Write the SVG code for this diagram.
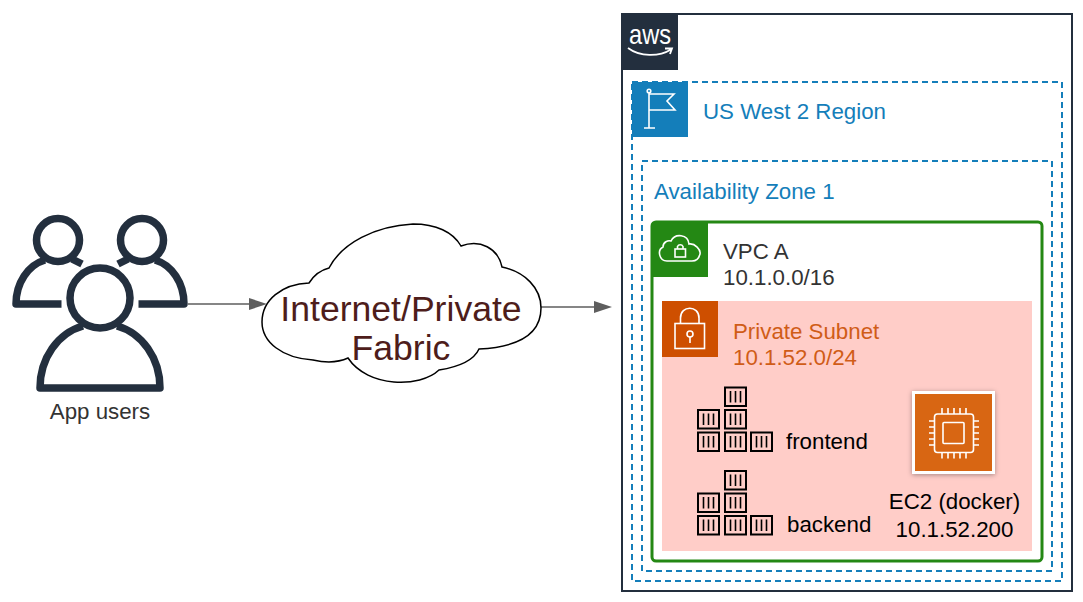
<svg xmlns="http://www.w3.org/2000/svg" width="1083" height="602" viewBox="0 0 1083 602">
<style>
text{font-family:"Liberation Sans",Arial,sans-serif;font-size:22.3px;fill:#333}
.blue{fill:#147eba}.org{fill:#d05c17}.blk{fill:#000}
.dash{fill:none;stroke:#147eba;stroke-width:2;stroke-dasharray:6 4}
.usr{fill:none;stroke:#232f3e;stroke-width:7.5;stroke-linejoin:round}
.ln{fill:none;stroke:#fff;stroke-width:1.6}
.conn{fill:none;stroke:#5e5e5e;stroke-width:1.5}
.c{fill:none;stroke:#000;stroke-width:2}
.b{stroke:#000;stroke-width:1.6}
</style>
<defs>
<marker id="arr" viewBox="0 0 18 12" refX="0" refY="6" markerWidth="18" markerHeight="12" markerUnits="userSpaceOnUse" orient="auto"><path d="M0 0L18 6L0 12Z" fill="#5e5e5e"/></marker>
<g id="box"><rect x="1" y="1" width="21" height="18.500" class="c"/><path d="M6.500 4.500V16M11.500 4.500V16M16.500 4.500V16" class="b"/></g>
<g id="stack">
<use href="#box" x="27" y="0"/>
<use href="#box" x="0" y="22.500"/><use href="#box" x="27" y="22.500"/>
<use href="#box" x="0" y="45"/><use href="#box" x="27" y="45"/><use href="#box" x="53" y="45"/>
</g>
<filter id="sh" x="-20%" y="-20%" width="140%" height="140%"><feDropShadow dx="0" dy="1" stdDeviation="2.500" flood-color="#000" flood-opacity=".35"/></filter>
</defs>

<g id="connectors">
<path class="conn" d="M188 304H249" marker-end="url(#arr)"/>
<path class="conn" d="M541 307H594" marker-end="url(#arr)"/>
</g>

<g id="users">
<circle class="usr" cx="58" cy="240" r="21.500"/>
<circle class="usr" cx="142" cy="240" r="21.500"/>
<path class="usr" d="M45 260C28 265 16 283 16 304H61.500M72 259L82 264"/>
<path class="usr" d="M155 260C172 265 184 283 184 304H138.500M128 259L118 264"/>
<circle class="usr" cx="100" cy="298" r="30"/>
<path class="usr" d="M83 326C58 333 40 358 40 388H160C160 358 142 333 117 326"/>
<text x="100" y="419" text-anchor="middle">App users</text>
</g>

<g id="cloud">
<path fill="#fff" stroke="#000" stroke-width="1.500" d="M309 283C314 275 321 270 329 268C342 243 375 226 413 224C436 224 453 232 461 246C480 239 498 248 502 267C525 272 541 288 541 308C541 334 518 347 479 349C474 360 458 367 439 370C420 388 368 388 348 358C335 364 322 362 313 360C282 358 262 342 262 322C262 300 282 284 309 283Z"/>
<text x="401" y="321" text-anchor="middle" style="font-size:35.6px;fill:#4e1d1b">Internet/Private</text>
<text x="401" y="360" text-anchor="middle" style="font-size:35.6px;fill:#4e1d1b">Fabric</text>
</g>

<g id="aws">
<rect x="622" y="14" width="450" height="577" fill="#fff" stroke="#232f3e" stroke-width="2"/>
<rect x="622" y="14" width="56" height="56" fill="#232f3e"/>
<text x="629" y="44" textLength="42" lengthAdjust="spacingAndGlyphs" style="font-size:28px;fill:#fff">aws</text>
<path d="M628 48C640 57 659 57 671 49.500M665 48.500L672 48.500L670 54" fill="none" stroke="#fff" stroke-width="1.800"/>
</g>

<g id="region">
<rect class="dash" x="632" y="82" width="430" height="499"/>
<rect x="632" y="82" width="56" height="55" fill="#147eba"/>
<circle cx="649" cy="91" r="1.800" class="ln"/>
<path class="ln" d="M649 93V128M644 128H655M649 94H674L667 101L675 110H649"/>
<text class="blue" x="703" y="119">US West 2 Region</text>
</g>

<g id="az">
<rect class="dash" x="642" y="161" width="410" height="410"/>
<text class="blue" x="654" y="199">Availability Zone 1</text>
</g>

<g id="vpc">
<rect x="652" y="222" width="390" height="339" rx="4" fill="#fff" stroke="#248814" stroke-width="3"/>
<path d="M652 226a4 4 0 0 1 4-4H708V277H652Z" fill="#248814"/>
<path class="ln" d="M667 261C659 261 657 250 663 247C663 242 668 240 671 241C675 233 688 234 689 244C695 243 701 250 700 254C699 258 696 261 692 261Z"/>
<rect class="ln" x="675" y="249" width="10.500" height="8"/>
<path class="ln" d="M677.500 249V246.500a3 3 0 0 1 5.500 0V249"/>
<text x="723" y="259">VPC A</text>
<text x="723" y="285">10.1.0.0/16</text>
</g>

<g id="subnet">
<rect x="662" y="301" width="370" height="250" fill="#ffcdc8"/>
<rect x="662" y="301" width="56" height="56" fill="#ce4f00"/>
<rect class="ln" x="675" y="323.500" width="29.500" height="25"/>
<path class="ln" d="M680.500 323.500V318C680.500 305 699 305 699 318V323.500"/>
<circle class="ln" cx="690" cy="334" r="3"/>
<path class="ln" d="M690 337V343"/>
<text class="org" x="733" y="339">Private Subnet</text>
<text class="org" x="733" y="365">10.1.52.0/24</text>
</g>

<g id="frontend">
<use href="#stack" x="697" y="386.500"/>
<text class="blk" x="786" y="449">frontend</text>
</g>

<g id="backend">
<use href="#stack" x="697" y="470"/>
<text class="blk" x="787" y="532">backend</text>
</g>

<g id="ec2">
<rect x="912" y="391" width="83" height="83" fill="#fff" filter="url(#sh)"/>
<rect x="915" y="394" width="77" height="77" fill="#d86613"/>
<rect class="ln" x="934.500" y="414" width="39" height="38.500" rx="3"/>
<rect class="ln" x="943" y="422.500" width="21" height="21" rx="1"/>
<path class="ln" d="M942 414V408M948 414V408M954 414V408M960 414V408M966 414V408M942 452.500V458.500M948 452.500V458.500M954 452.500V458.500M960 452.500V458.500M966 452.500V458.500M934.500 421H929M934.500 427H929M934.500 433H929M934.500 439H929M934.500 445H929M973.500 421H979M973.500 427H979M973.500 433H979M973.500 439H979M973.500 445H979"/>
<text class="blk" x="954.500" y="509" text-anchor="middle">EC2 (docker)</text>
<text class="blk" x="954.500" y="537" text-anchor="middle">10.1.52.200</text>
</g>
</svg>
